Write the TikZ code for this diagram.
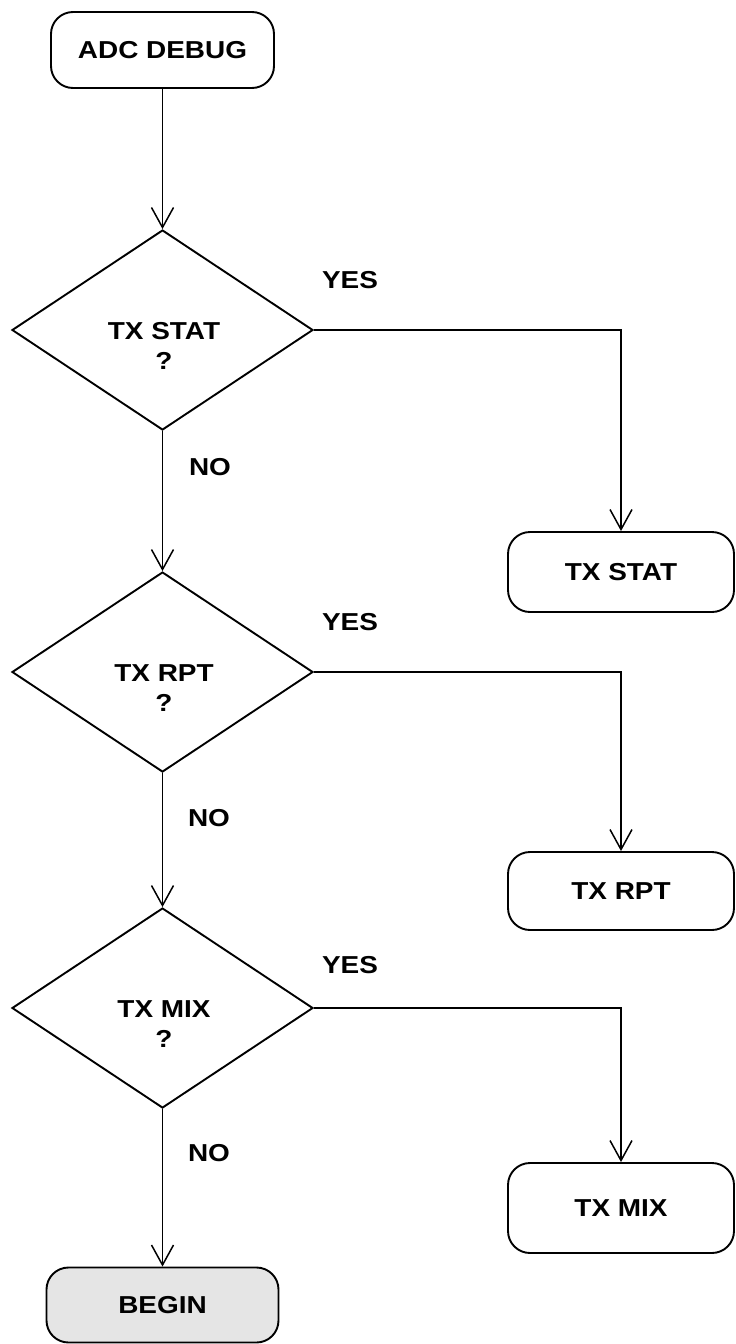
\documentclass[tikz,border=0pt]{standalone}
\usepackage{fontspec}
\newfontfamily\lblfont[FakeStretch=1.14]{Liberation Sans}
\usetikzlibrary{shapes.geometric,arrows.meta,calc}
\begin{document}
\begin{tikzpicture}[x=1pt,y=-1pt,
  every node/.style={font=\lblfont\bfseries\fontsize{24.5}{30}\selectfont},
  termbox/.style={draw, line width=1.9pt, rounded corners=22pt, inner sep=0pt, align=center},
  decbox/.style={draw, diamond, line width=1.9pt, minimum width=301pt, minimum height=200pt, inner sep=0pt},
  dtext/.style={align=center, inner sep=0pt},
  lbl/.style={inner sep=0pt},
  flow/.style={line width=1.5pt, -{Straight Barb[length=20pt,width=22pt,line width=1.5pt]}}
]
\useasboundingbox (0,0) rectangle (736,1344);

\node[termbox, minimum width=223pt, minimum height=76pt] (adc) at (162.5,50) {ADC DEBUG};

\node[decbox] (d1) at (162.5,330) {};
\node[dtext] (t1) at (164,346) {TX STAT\\?};
\node[decbox] (d2) at (162.5,672) {};
\node[dtext] (t2) at (164,688) {TX RPT\\?};
\node[decbox] (d3) at (162.5,1008) {};
\node[dtext] (t3) at (164,1024) {TX MIX\\?};

\node[termbox, minimum width=226pt, minimum height=80pt] (stat) at (621,572) {TX STAT};
\node[termbox, minimum width=226pt, minimum height=78pt] (rpt) at (621,891) {TX RPT};
\node[termbox, minimum width=226pt, minimum height=90pt] (mix) at (621,1208) {TX MIX};
\node[termbox, fill=black!10, minimum width=232pt, minimum height=75pt] (begin) at (162.5,1305) {BEGIN};

\draw[flow] (adc.south) -- (d1.north);
\draw[flow] (d1.south) -- (d2.north);
\draw[flow] (d2.south) -- (d3.north);
\draw[flow] (d3.south) -- (begin.north);
\draw[flow] (d1.east) -| (stat.north);
\draw[flow] (d2.east) -| (rpt.north);
\draw[flow] (d3.east) -| (mix.north);

\node[lbl] (y1) at (350,280) {YES};
\node[lbl] (y2) at (350,622) {YES};
\node[lbl] (y3) at (350,965) {YES};
\node[lbl] (n1) at (210,467) {NO};
\node[lbl] (n2) at (209,818) {NO};
\node[lbl] (n3) at (209,1153) {NO};
\end{tikzpicture}
\end{document}
